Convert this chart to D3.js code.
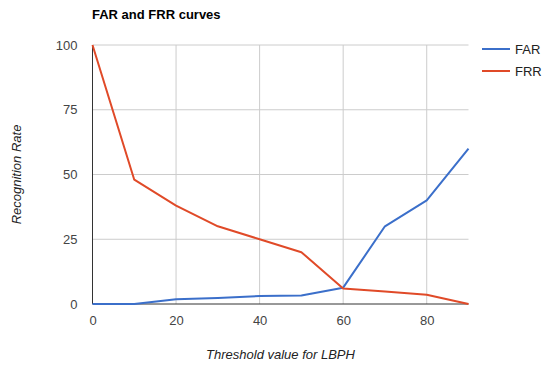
<!DOCTYPE html>
<html>
<head>
<meta charset="utf-8">
<script src="https://cdn.jsdelivr.net/npm/d3@7"></script>
<style>
  body { margin: 0; background: #fff; }
  svg { font-family: "Liberation Sans", Arial, sans-serif; }
</style>
</head>
<body>
<svg id="chart" width="550" height="373"></svg>
<script>
// thresholds and rates
const thresholds = [0, 10, 20, 30, 40, 50, 60, 70, 80, 90];
const farValues = [0, 0, 1.8, 2.3, 3.1, 3.3, 6.3, 30, 40, 60];
const frrValues = [100, 48, 38, 30, 25, 20, 6, 4.8, 3.6, 0];
const seriesNames = ['FAR', 'FRR'];
const seriesColors = ['#3b6fca', '#e04a28'];
const xTicks = [0, 20, 40, 60, 80];
const yTicks = [0, 25, 50, 75, 100];

const svg = d3.select('#chart');
const margin = { top: 45, left: 92.5, right: 81.5, bottom: 69 };
const width = 550 - margin.left - margin.right;
const height = 373 - margin.top - margin.bottom;

const x = d3.scaleLinear().domain([0, 90]).range([0, width]);
const y = d3.scaleLinear().domain([0, 100]).range([height, 0]);

const chart = svg.append('g')
  .attr('transform', `translate(${margin.left}, ${margin.top})`);

// gridlines
chart.append('g')
  .selectAll('line.hgrid')
  .data(yTicks.filter(d => d !== 0))
  .join('line')
  .attr('x1', 0).attr('x2', width)
  .attr('y1', d => y(d)).attr('y2', d => y(d))
  .attr('stroke', '#cccccc').attr('stroke-width', 1);
chart.append('g')
  .selectAll('line.vgrid')
  .data(xTicks.filter(d => d !== 0))
  .join('line')
  .attr('x1', d => x(d)).attr('x2', d => x(d))
  .attr('y1', 0).attr('y2', height)
  .attr('stroke', '#cccccc').attr('stroke-width', 1);

// axes (labels only, baselines drawn separately)
const xAxis = d3.axisBottom(x).tickValues(xTicks).tickSize(0).tickPadding(12);
const yAxis = d3.axisLeft(y).tickValues(yTicks).tickSize(0).tickPadding(15);

chart.append('g')
  .attr('transform', `translate(0, ${height})`)
  .call(xAxis)
  .call(g => g.select('.domain').remove())
  .selectAll('text').attr('font-size', 13).attr('fill', '#444').attr('font-family', null);
chart.append('g')
  .call(yAxis)
  .call(g => g.select('.domain').remove())
  .selectAll('text').attr('font-size', 13).attr('fill', '#444').attr('font-family', null);

// baselines
chart.append('line')
  .attr('x1', 0).attr('x2', width).attr('y1', y(0)).attr('y2', y(0))
  .attr('stroke', '#333').attr('stroke-width', 1);
chart.append('line')
  .attr('x1', x(0)).attr('x2', x(0)).attr('y1', 0).attr('y2', height)
  .attr('stroke', '#333').attr('stroke-width', 1);

// lines
const line = d3.line().x((d, i) => x(thresholds[i])).y(d => y(d));
[farValues, frrValues].forEach((vals, i) => {
  chart.append('path')
    .datum(vals)
    .attr('fill', 'none')
    .attr('stroke', seriesColors[i])
    .attr('stroke-width', 2)
    .attr('stroke-linejoin', 'round')
    .attr('d', line);
});

// title
svg.append('text')
  .attr('x', 92).attr('y', 19)
  .attr('font-size', 13).attr('font-weight', 'bold').attr('fill', '#000')
  .text('FAR and FRR curves');

// axis titles
svg.append('text')
  .attr('x', margin.left + width / 2).attr('y', 359)
  .attr('text-anchor', 'middle')
  .attr('font-size', 13).attr('font-style', 'italic').attr('fill', '#222')
  .text('Threshold value for LBPH');
svg.append('text')
  .attr('transform', `translate(21, ${margin.top + height / 2}) rotate(-90)`)
  .attr('text-anchor', 'middle')
  .attr('font-size', 13).attr('font-style', 'italic').attr('fill', '#222')
  .text('Recognition Rate');

// legend
const legend = svg.append('g').attr('transform', 'translate(482, 49)');
seriesNames.forEach((name, i) => {
  const g = legend.append('g').attr('transform', `translate(0, ${i * 22})`);
  g.append('line')
    .attr('x1', 0).attr('x2', 28).attr('y1', 0).attr('y2', 0)
    .attr('stroke', seriesColors[i]).attr('stroke-width', 2);
  g.append('text')
    .attr('x', 33).attr('y', 5)
    .attr('font-size', 13).attr('fill', '#222')
    .text(name);
});
</script>
</body>
</html>
